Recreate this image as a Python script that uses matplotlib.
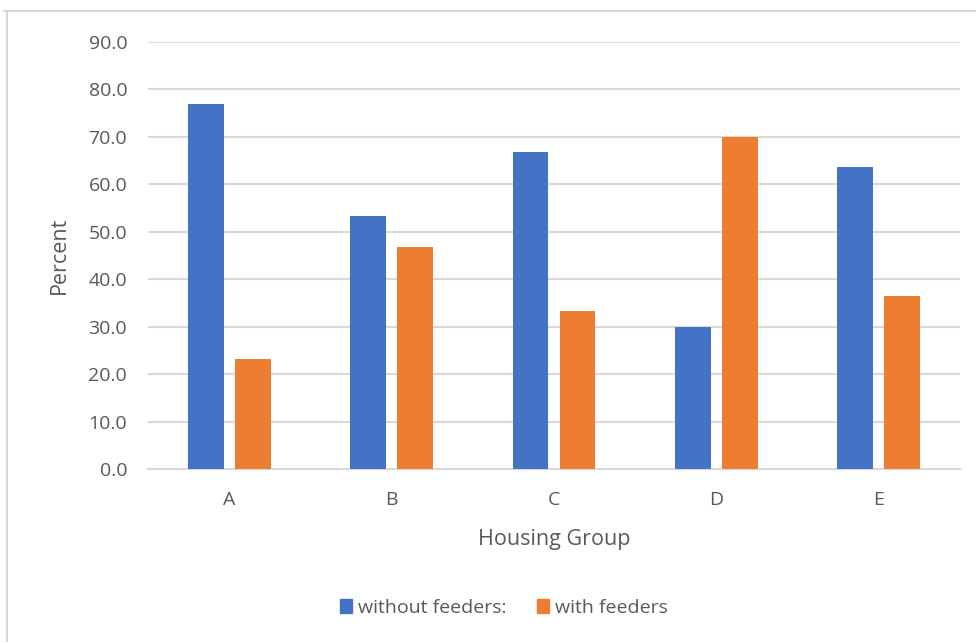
import matplotlib
matplotlib.use("Agg")
import matplotlib.pyplot as plt
from matplotlib.lines import Line2D
from matplotlib.patches import Patch
import numpy as np

groups = ["A", "B", "C", "D", "E"]
without_feeders = [76.9, 53.3, 66.7, 30.0, 63.6]
with_feeders = [23.1, 46.7, 33.3, 70.0, 36.4]
series_names = ["without feeders:", "with feeders"]
y_ticks = [0, 10, 20, 30, 40, 50, 60, 70, 80, 90]

BLUE = "#4472C4"
ORANGE = "#ED7D31"
TEXT = "#595959"
GRID = "#D9D9D9"

plt.rcParams["font.family"] = ["Open Sans", "DejaVu Sans"]

fig = plt.figure(figsize=(9.76, 6.42), dpi=100)
fig.patch.set_facecolor("white")

# chart frame (top and left edges)
fig.add_artist(Line2D([4 / 976, 1.0], [1 - 11 / 642, 1 - 11 / 642],
                      color="#D0D0D0", lw=1.2, transform=fig.transFigure))
fig.add_artist(Line2D([7 / 976, 7 / 976], [0.0, 1 - 11 / 642],
                      color="#D0D0D0", lw=1.2, transform=fig.transFigure))

ax = fig.add_axes([148 / 976, 1 - 469 / 642, (960 - 148) / 976, (469 - 41.7) / 642])

x = np.arange(len(groups))
w = 0.22
off = 0.145
ax.bar(x - off, without_feeders, width=w, color=BLUE, zorder=3)
ax.bar(x + off, with_feeders, width=w, color=ORANGE, zorder=3)

ax.set_xlim(-0.5, len(groups) - 0.5)
ax.set_ylim(0, 90)
ax.set_yticks(y_ticks)
ax.set_yticklabels([f"{v:.1f}" for v in y_ticks])
ax.set_xticks(x)
ax.set_xticklabels(groups)

ax.yaxis.grid(True, color=GRID, lw=1.5, zorder=0)
ax.set_axisbelow(True)
for s in ["top", "right", "left"]:
    ax.spines[s].set_visible(False)
ax.spines["bottom"].set_color(GRID)
ax.spines["bottom"].set_linewidth(1.5)

ax.tick_params(axis="both", length=0, colors=TEXT, labelsize=14)
ax.tick_params(axis="y", pad=15)
ax.tick_params(axis="x", pad=16)

ax.set_xlabel("Housing Group", color=TEXT, fontsize=15.5)
ax.set_ylabel("Percent", color=TEXT, fontsize=15.5)
ax.xaxis.set_label_coords(0.5, -0.141)
ax.yaxis.set_label_coords(-0.096, 0.5)

handles = [Patch(color=BLUE), Patch(color=ORANGE)]
fig.legend(handles, series_names, loc="center", bbox_to_anchor=(504 / 976, 1 - 608 / 642),
           ncol=2, frameon=False, fontsize=14, labelcolor=TEXT,
           handlelength=0.62, handleheight=0.72, handletextpad=0.3, columnspacing=1.6)

fig.savefig("out.png", dpi=100, facecolor="white")
